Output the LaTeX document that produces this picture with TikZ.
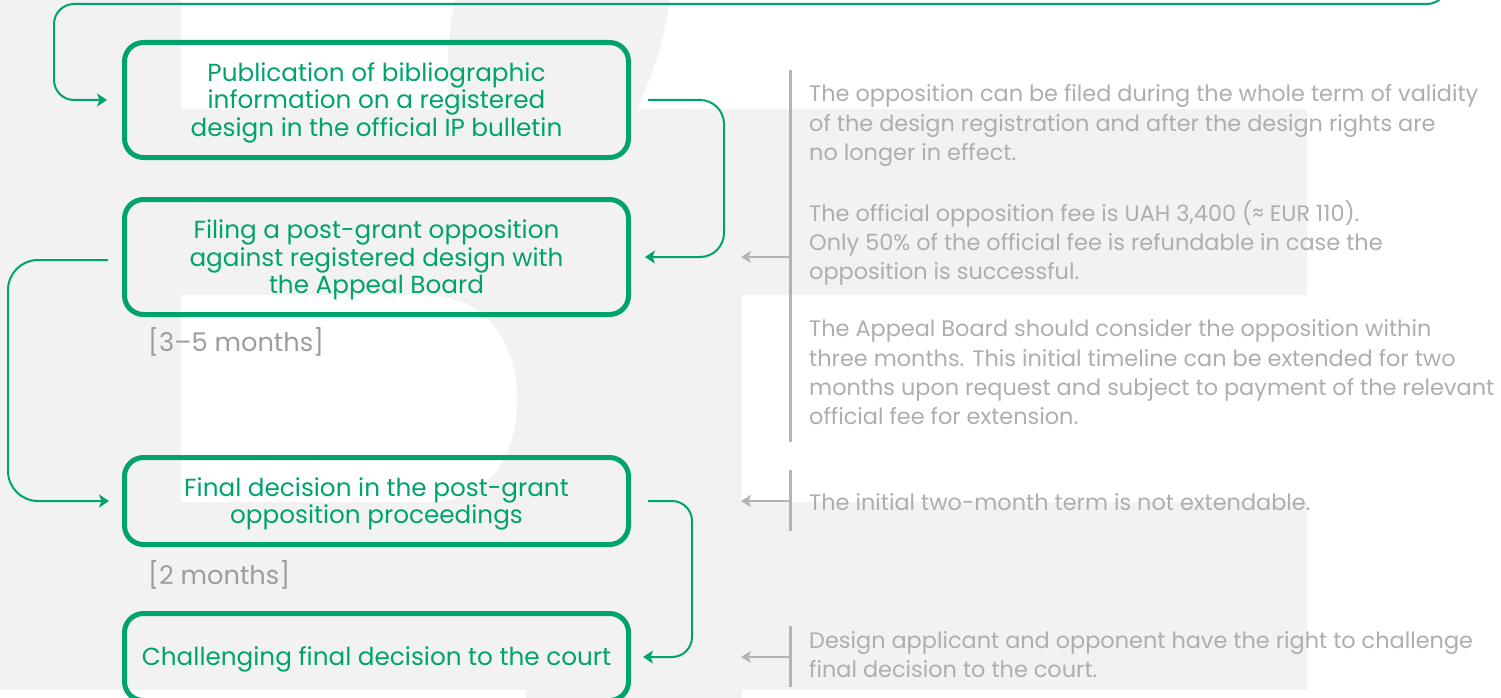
\documentclass[tikz,border=0pt]{standalone}
\usepackage{fontspec}
\setmainfont{Poppins}
\usetikzlibrary{arrows.meta}
\definecolor{grn}{HTML}{00A36C}
\definecolor{bgg}{HTML}{F2F2F2}
\definecolor{gtxt}{HTML}{AEAEAE}
\definecolor{glab}{HTML}{9D9D9D}
\definecolor{gln}{HTML}{B3B3B3}
\newcommand{\topstrut}{\rule{0pt}{24.5pt}}
\begin{document}
\begin{tikzpicture}[x=1pt,y=-1pt,
  stepbox/.style={draw=grn, line width=5pt, rounded corners=19pt, minimum width=504pt,
    minimum height=115pt, align=center, text=grn, inner sep=0pt,
    font=\fontsize{24.7}{27.5}\selectfont},
  conn/.style={draw=grn, line width=2pt, -{Stealth[length=10pt,width=13pt,inset=2.5pt]}},
  gline/.style={draw=gln, line width=3pt},
  garrow/.style={draw=gln, line width=2.5pt, -{Stealth[length=10pt,width=12pt,inset=2.5pt]}},
  gtext/.style={text=gtxt, align=left, anchor=north west, inner sep=0pt,
    font=\fontsize{22.4}{29.2}\selectfont},
  glabel/.style={text=glab, anchor=base west, inner sep=0pt, font=\fontsize{25.7}{28}\selectfont}]
\useasboundingbox (0,0) rectangle (1501,698);
% background watermark
\fill[white] (0,0) rectangle (1501,698);
\fill[bgg] (0,0) rectangle (181,690);
\fill[bgg] (455,0) .. controls (447,40) and (446,80) .. (450,109) -- (637,109)
  .. controls (655,70) and (665,35) .. (670,0) -- cycle;
\fill[bgg] (181,109) rectangle (1307,295);
\fill[bgg] (181,295) rectangle (742,502);
\fill[white] (181,295) -- (425,295) .. controls (488,295) and (517,345) .. (517,400)
  .. controls (517,458) and (488,502) .. (430,502) -- (181,502) -- cycle;
\fill[bgg] (0,502) rectangle (1307,690);
\fill[bgg] (526,690) rectangle (742,698);

% boxes
\node[stepbox] (b1) at (376.5,100) {\topstrut Publication of bibliographic\\information on a registered\\design in the official IP bulletin};
\node[stepbox] (b2) at (376.5,257) {\topstrut Filing a post-grant opposition\\against registered design with\\the Appeal Board};
\node[stepbox, minimum height=87pt] (b3) at (376.5,501) {\topstrut Final decision in the post-grant\\opposition proceedings};
\node[stepbox, minimum height=87pt] (b4) at (376.5,657) {\topstrut Challenging final decision to the court};

% green connectors
\coordinate (topin) at (1447,-40);
\draw[conn, rounded corners=20pt] (topin) |- (54,4) |- ([xshift=-15pt]b1.west);
\draw[conn, rounded corners=24pt] ([xshift=17pt]b1.east) -- ([xshift=93pt]b1.east) |- ([xshift=14pt]b2.east);
\draw[conn, rounded corners=30pt] ([xshift=-14pt,yshift=-3pt]b2.west) -- ([xshift=-114pt,yshift=-3pt]b2.west) |- ([xshift=-13pt]b3.west);
\draw[conn, rounded corners=20pt] ([xshift=17pt]b3.east) -- ([xshift=61pt]b3.east) |- ([xshift=12pt]b4.east);

% labels
\node[glabel] (l1) at (148,351) {[3–5 months]};
\node[glabel] (l2) at (148,584) {[2 months]};

% gray brackets and arrows
\coordinate (v1a) at (790,70); \coordinate (v1b) at (790,442);
\coordinate (v2a) at (790,470); \coordinate (v2b) at (790,531);
\coordinate (v3a) at (790,626); \coordinate (v3b) at (790,687);
\draw[gline] (v1a) -- (v1b);
\draw[gline] (v2a) -- (v2b);
\draw[gline] (v3a) -- (v3b);
\coordinate (p1) at (790,257); \coordinate (q1) at (741,257);
\coordinate (p2) at (790,501); \coordinate (q2) at (741,501);
\coordinate (p3) at (790,657); \coordinate (q3) at (741,657);
\draw[garrow] (p1) -- (q1);
\draw[garrow] (p2) -- (q2);
\draw[garrow] (p3) -- (q3);

% gray texts
\node[gtext] (t1) at (809,83.7) {\rule{0pt}{18pt}The opposition can be filed during the whole term of validity\\of the design registration and after the design rights are\\no longer in effect.};
\node[gtext] (t2) at (809,200) {\rule{0pt}{18pt}The official opposition fee is UAH 3,400 (≈ EUR 110).\\Only 50\% of the official fee is refundable in case the\\opposition is successful.};
\node[gtext] (t3) at (809,318.7) {\rule{0pt}{18pt}The Appeal Board should consider the opposition within\\three months. This initial timeline can be extended for two\\months upon request and subject to payment of the relevant\\official fee for extension.};
\node[gtext] (t4) at (809,492) {\rule{0pt}{18pt}The initial two-month term is not extendable.};
\node[gtext] (t5) at (809,630) {\rule{0pt}{18pt}Design applicant and opponent have the right to challenge\\final decision to the court.};
\end{tikzpicture}
\end{document}
